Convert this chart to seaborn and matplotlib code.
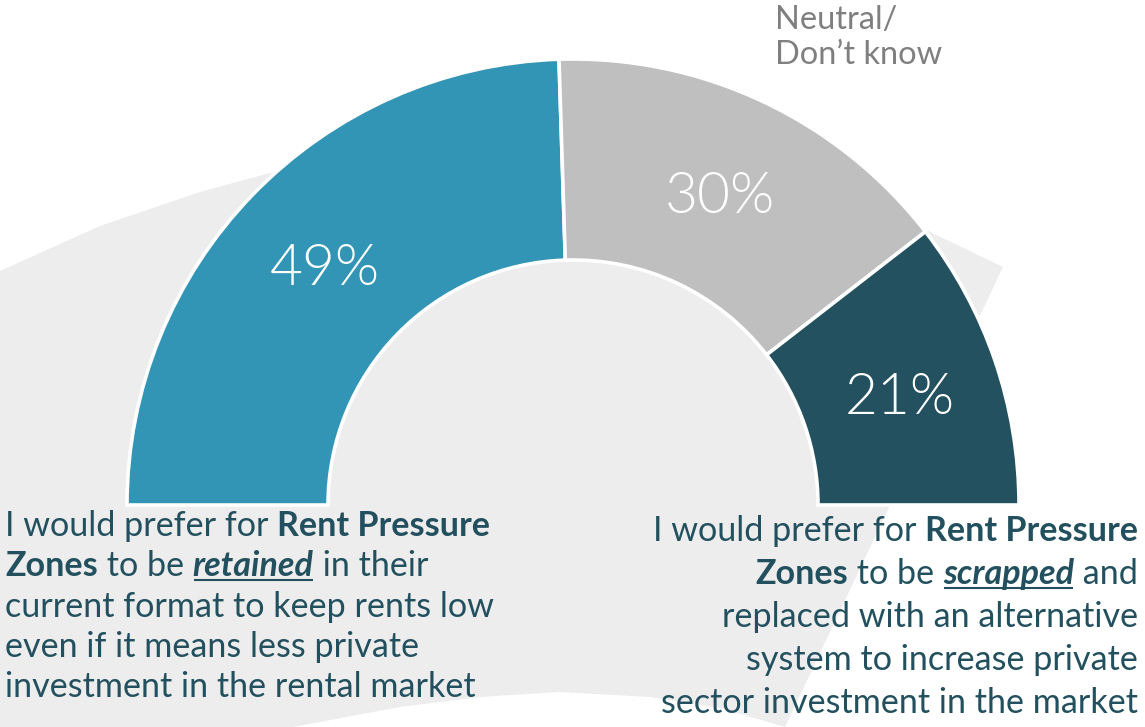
import numpy as np
import pandas as pd
import seaborn as sns
import matplotlib.pyplot as plt
from matplotlib.patches import Polygon

# ---------------- data ----------------
categories = ["Retained", "Neutral/Don't know", "Scrapped"]
values = [49, 30, 21]
value_labels = ["49%", "30%", "21%"]
neutral_label = ["Neutral/", "Don\u2019t know"]

# rich text runs: (text, weight, style, underline)
left_lines = [
    [("I would prefer for ", "normal", "normal", False), ("Rent Pressure", "bold", "normal", False)],
    [("Zones", "bold", "normal", False), (" to be ", "normal", "normal", False),
     ("retained", "bold", "italic", True), (" in their", "normal", "normal", False)],
    [("current format to keep rents low", "normal", "normal", False)],
    [("even if it means less private", "normal", "normal", False)],
    [("investment in the rental market", "normal", "normal", False)],
]
right_lines = [
    [("I would prefer for ", "normal", "normal", False), ("Rent Pressure", "bold", "normal", False)],
    [("Zones", "bold", "normal", False), (" to be ", "normal", "normal", False),
     ("scrapped", "bold", "italic", True), (" and", "normal", "normal", False)],
    [("replaced with an alternative", "normal", "normal", False)],
    [("system to increase private", "normal", "normal", False)],
    [("sector investment in the market", "normal", "normal", False)],
]

# ---------------- style ----------------
COLORS = ["#3295B6", "#BFBFBF", "#23515F"]
TEXT = "#23505E"
BG_SHAPE = "#EDEDED"

sns.set_theme(style="white")
plt.rcParams['font.family'] = ['Lato', 'DejaVu Sans']

W, H = 1145, 727
fig = plt.figure(figsize=(W / 100, H / 100), dpi=100)
fig.patch.set_facecolor("white")
ax = fig.add_axes([0, 0, 1, 1])

# decorative background shape
shape = [(0, 271), (100, 226), (200, 192), (270, 173), (330, 160), (573, 140),
         (880, 208), (1003, 267), (785, 727), (720, 708), (650, 697), (560, 692),
         (480, 697), (400, 707), (293, 727), (0, 727)]
ax.add_patch(Polygon(shape, closed=True, facecolor=BG_SHAPE, edgecolor="none", zorder=0))

# half donut
cx, cy, R, RW = 573, 505, 446, 201
wedges, _ = ax.pie(values + [sum(values)], radius=R, center=(cx, cy), startangle=180,
                   counterclock=True, colors=COLORS + ["white"], frame=True,
                   wedgeprops=dict(width=RW, edgecolor="white", linewidth=2.6))
wedges[-1].set_visible(False)
for w in wedges:
    w.set_zorder(2)

ax.set_xlim(0, W)
ax.set_ylim(H, 0)
ax.set_aspect("auto")
ax.axis("off")

renderer = fig.canvas.get_renderer()


def run_width(s, size, weight="normal", style="normal"):
    t = ax.text(0, 0, "x" + s + "x", fontsize=size, fontweight=weight, fontstyle=style)
    w1 = t.get_window_extent(renderer).width
    t.set_text("xx")
    w2 = t.get_window_extent(renderer).width
    t.remove()
    return w1 - w2


def line_width(runs, size):
    return sum(run_width(s, size, wt, st) for s, wt, st, _ in runs)


def fit_size(runs, target):
    base = 20.0
    return base * target / line_width(runs, base)


def draw_line(runs, x, y, align, size, color):
    widths = [run_width(s, size, wt, st) for s, wt, st, _ in runs]
    total = sum(widths)
    x0 = x if align == "left" else x - total
    for (s, wt, st, ul), w in zip(runs, widths):
        ax.text(x0, y, s, fontsize=size, fontweight=wt, fontstyle=st, color=color,
                ha="left", va="baseline", zorder=5)
        if ul:
            ax.plot([x0 + 1, x0 + w - 1], [y + 4, y + 4], color=color, lw=1.5,
                    solid_capstyle="butt", zorder=5)
        x0 += w


# body text size fitted to reference line width
body_size = fit_size(left_lines[0], 486)

left_base = [536, 576, 617, 657, 697]
for runs, yb in zip(left_lines, left_base):
    draw_line(runs, 5, yb, "left", body_size, TEXT)

right_base = [541, 584, 627, 670, 713]
for runs, yb in zip(right_lines, right_base):
    draw_line(runs, 1138, yb, "right", body_size, TEXT)

# neutral label
n_size = fit_size([(neutral_label[1], "normal", "normal", False)], 167)
for s, yb in zip(neutral_label, [29, 64]):
    ax.text(775, yb, s, fontsize=n_size, color="#7F7F7F", ha="left", va="baseline", zorder=5)

# value labels at mid-angle / mid-radius of each wedge
PW = 300
p_size = fit_size([(value_labels[0], PW, "normal", False)], 110)
rmid = R - RW / 2
for w, lab in zip(wedges[:3], value_labels):
    th = np.deg2rad((w.theta1 + w.theta2) / 2)
    x = cx + rmid * np.cos(th)
    y = cy + rmid * np.sin(th)
    ax.text(x, y, lab, fontsize=p_size, fontweight=PW, color="white",
            ha="center", va="center_baseline", zorder=6)

fig.savefig("out.png", dpi=100, facecolor="white")
